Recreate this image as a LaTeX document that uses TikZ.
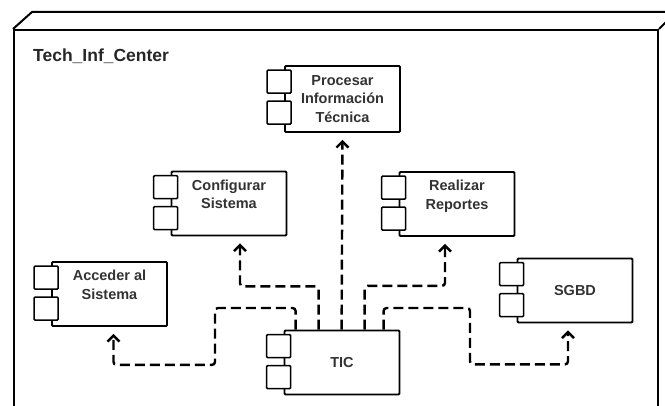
\documentclass[tikz,border=0pt]{standalone}
\usepackage{fontspec}
\setmainfont{Liberation Sans}
\usetikzlibrary{positioning, arrows.meta, calc}

\begin{document}
\begin{tikzpicture}[
    x=1pt, y=-1pt,
    comp/.style={
        draw, rectangle, minimum width=115pt, minimum height=64pt,
        align=center, fill=white, line width=1.8pt, rounded corners=1pt,
        font=\fontsize{14.5}{18.5}\selectfont\bfseries, text=black!80
    },
    port/.style={draw, fill=white, line width=1.5pt, rounded corners=1pt},
    dep/.style={
        line width=2.4pt, dash pattern=on 10pt off 5pt, rounded corners=3pt,
        -{Straight Barb[length=6pt,width=12pt]}, shorten >=7pt
    }
]
\useasboundingbox (0,0) rectangle (665,406);
\clip (0,0) rectangle (665,406);

% -------------------------
% Node frame
% -------------------------
\node[draw, line width=2pt, minimum width=644pt, minimum height=420pt,
      inner sep=0pt, anchor=north west] (techinf) at (13,29) {};
\draw[line width=2pt] (techinf.north west) -- ++(19,-17) -- ++(644,0)
    -- (techinf.north east);
\draw[line width=2pt] ($(techinf.north east)+(19,-17)$)
    -- ($(techinf.south east)+(19,-17)$);

% Title
\node[font=\fontsize{17.5}{20}\selectfont\bfseries, text=black!85,
      anchor=base west, inner sep=0pt] (title) at (33,62) {Tech\_Inf\_Center};

% -------------------------
% Components
% -------------------------
\node[comp, minimum height=66pt] (proc) at (342.5,99) {Procesar\\Información\\Técnica};
\node[comp] (conf) at (229,203.5) {Configurar\\Sistema\\~};
\node[comp] (real) at (457,204) {Realizar\\Reportes\\~};
\node[comp] (acc) at (109.5,294) {Acceder al\\Sistema\\~};
\node[comp] (sgbd) at (575,290.5) {SGBD};
\node[comp] (tic) at (342,362.5) {TIC};

% component icons
\foreach \n in {proc, conf, real, acc, sgbd, tic} {
    \draw[port] ($(\n.north west)+(-17,5)$) rectangle ++(24,23);
    \draw[port] ($(\n.north west)+(-17,36)$) rectangle ++(24,23);
}

% ports on TIC
\foreach \p/\dx in {1/12, 2/35, 3/58, 4/81, 5/100}
    \coordinate (p\p) at ($(tic.north west)+(\dx,0)$);

% -------------------------
% Dependencies
% -------------------------

% TIC -> Acceder al Sistema
\draw[dep] (p1) |- (215,308) |- ($(acc.south)+(4,38)$) -- ($(acc.south)+(4,0)$);

% TIC -> Configurar Sistema
\draw[dep] (p2) |- ($(conf.south)+(11,50)$) -- ($(conf.south)+(11,0)$);

% TIC -> Procesar Informacion Tecnica
\draw[dep] (p3) -- (proc.south);

% TIC -> Realizar Reportes
\draw[dep] (p4) |- ($(real.south)+(-12,49)$) -- ($(real.south)+(-12,0)$);

% TIC -> SGBD
\draw[dep] (p5) |- (470,308) |- ($(sgbd.south)+(-7,41)$) -- ($(sgbd.south)+(-7,0)$);

\end{tikzpicture}
\end{document}
